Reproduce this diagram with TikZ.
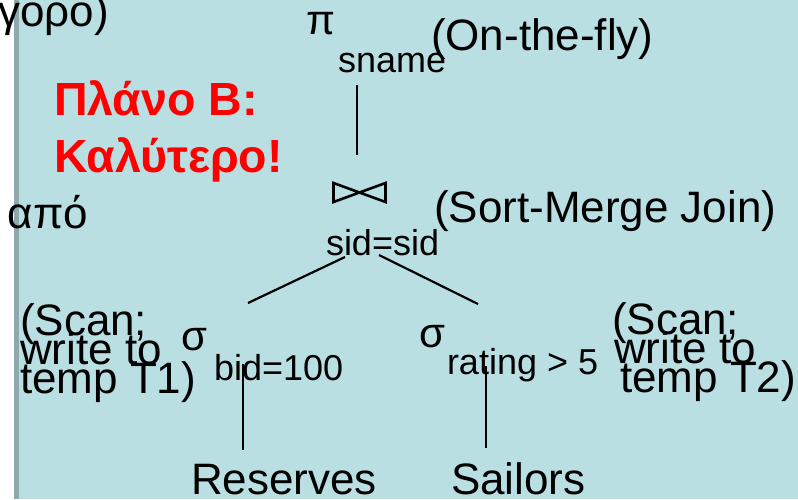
\documentclass[tikz,border=0pt]{standalone}
\usepackage{fontspec}
\setmainfont{Liberation Sans}
\definecolor{bgblue}{HTML}{B9DFE3}
\definecolor{stripgrey}{HTML}{8EA9AB}
\definecolor{plred}{HTML}{FF0000}
\newcommand\mytightlines{\lineskiplimit=-100pt\relax\lineskip=0pt\relax}
\begin{document}
\begin{tikzpicture}[x=1pt,y=-1pt,
  txt/.style={inner sep=0pt,outer sep=0pt,font=\fontsize{44}{44}\selectfont},
  sub/.style={inner sep=0pt,outer sep=0pt,font=\fontsize{36}{36}\selectfont},
  op/.style={inner sep=0pt,outer sep=0pt,font=\fontsize{42}{42}\selectfont},
  note/.style={inner sep=0pt,outer sep=0pt,font=\fontsize{44}{29}\selectfont\mytightlines,align=left},
  red/.style={inner sep=0pt,outer sep=0pt,text=plred,font=\fontsize{46.5}{57}\selectfont\bfseries,align=left},
  edge/.style={line width=2.2pt,draw=black}]
\useasboundingbox (0,0) rectangle (798,499);
\clip (0,0) rectangle (798,499);
\fill[white] (0,0) rectangle (798,499);
\fill[bgblue] (19,0) rectangle (798,499);
\fill[stripgrey] (14,0) rectangle (19,499);
% cut-off text on the left
\node[txt,anchor=base east] (prev1) at (109,26) {γρήγορο)};
\node[txt,anchor=base east] (prev2) at (88,228) {από};
% red label (base = last line)
\node[red,anchor=base west] (plan) at (54,172) {Πλάνο Β:\\Καλύτερο!};
% projection
\node[op,anchor=base west] (pi) at (306,34) {π};
\node[sub,anchor=base west] (sname) at (338,72) {sname};
\node[txt,anchor=base west] (fly) at (431,50) {(On-the-fly)};
\coordinate (piL) at (357,85);
\coordinate (joinT) at (357,155);
\draw[edge] (piL) -- (joinT);
% join
\coordinate (join) at (359.5,192.5);
\draw[line width=2.6pt,line join=miter] ([xshift=-26pt,yshift=-9.5pt]join) -- ([xshift=-26pt,yshift=9.5pt]join) -- (join) -- cycle;
\draw[line width=2.6pt,line join=miter] ([xshift=26pt,yshift=-9.5pt]join) -- ([xshift=26pt,yshift=9.5pt]join) -- (join) -- cycle;
\node[sub,anchor=base west] (cond) at (326,255) {sid=sid};
\node[txt,anchor=base west] (smj) at (434,222) {(Sort-Merge Join)};
\coordinate (jl) at (345,257);
\coordinate (jr) at (379,255);
\coordinate (sl) at (248,303);
\coordinate (sr) at (478,304);
\draw[edge] (jl) -- (sl);
\draw[edge] (jr) -- (sr);
% left selection
\node[op,anchor=base west] (sig1) at (181,350) {σ};
\node[sub,anchor=base west] (bid) at (214,380) {bid=100};
\node[note,anchor=base west] (scan1) at (20,393) {(Scan;\\write to\\temp T1)};
\coordinate (b1) at (243,364);
\coordinate (r1) at (243,450);
\draw[edge] (b1) -- (r1);
\node[txt,anchor=base west] (res) at (191,494) {Reserves};
% right selection
\node[op,anchor=base west] (sig2) at (419,347) {σ};
\node[sub,anchor=base west] (rat) at (447,374) {rating > 5};
\node[note,anchor=base west] (scan2) at (612,392) {(Scan;\\\hspace*{2pt}write to\\\hspace*{8pt}temp T2)};
\coordinate (b2) at (486,366);
\coordinate (r2) at (486,448);
\draw[edge] (b2) -- (r2);
\node[txt,anchor=base west] (sai) at (451,494) {Sailors};
\end{tikzpicture}
\end{document}
